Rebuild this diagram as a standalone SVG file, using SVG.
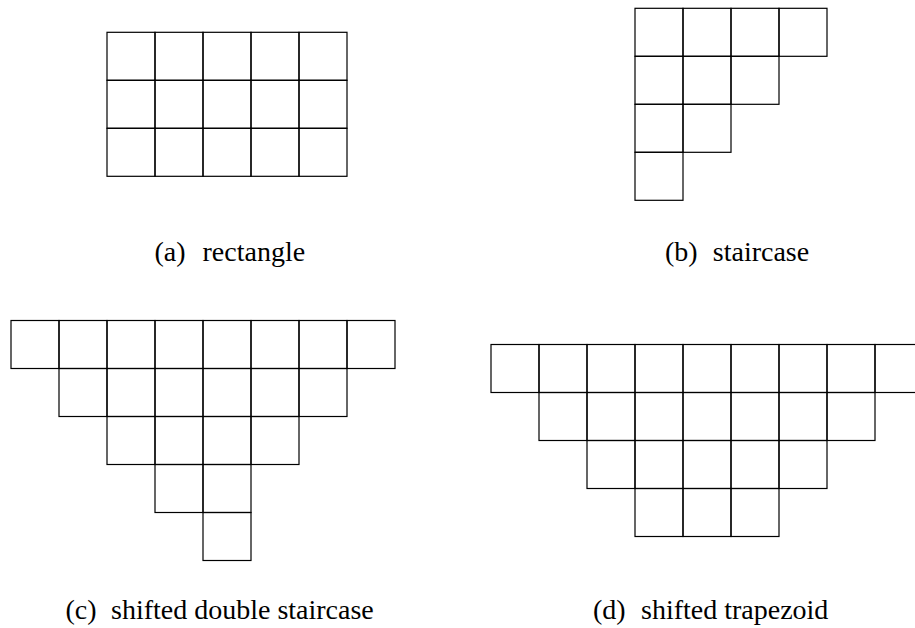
<svg xmlns="http://www.w3.org/2000/svg" xmlns:xlink="http://www.w3.org/1999/xlink" width="915" height="628" viewBox="0 0 915 628">
<style>
.c{fill:none;stroke:#000;stroke-width:1.2}
text{font-family:'Liberation Serif',Tinos,'Times New Roman',Times,'DejaVu Serif',serif;font-size:28px;fill:#000}
</style>
<defs>
<rect id="cell" class="c" width="48" height="48"/>
</defs>
<rect width="915" height="628" fill="#fff"/>
<g id="rectangle">
<use xlink:href="#cell" x="107" y="32.3"/><use xlink:href="#cell" x="155" y="32.3"/><use xlink:href="#cell" x="203" y="32.3"/><use xlink:href="#cell" x="251" y="32.3"/><use xlink:href="#cell" x="299" y="32.3"/>
<use xlink:href="#cell" x="107" y="80.3"/><use xlink:href="#cell" x="155" y="80.3"/><use xlink:href="#cell" x="203" y="80.3"/><use xlink:href="#cell" x="251" y="80.3"/><use xlink:href="#cell" x="299" y="80.3"/>
<use xlink:href="#cell" x="107" y="128.3"/><use xlink:href="#cell" x="155" y="128.3"/><use xlink:href="#cell" x="203" y="128.3"/><use xlink:href="#cell" x="251" y="128.3"/><use xlink:href="#cell" x="299" y="128.3"/>
</g>
<g id="staircase">
<use xlink:href="#cell" x="635" y="8.3"/><use xlink:href="#cell" x="683" y="8.3"/><use xlink:href="#cell" x="731" y="8.3"/><use xlink:href="#cell" x="779" y="8.3"/>
<use xlink:href="#cell" x="635" y="56.3"/><use xlink:href="#cell" x="683" y="56.3"/><use xlink:href="#cell" x="731" y="56.3"/>
<use xlink:href="#cell" x="635" y="104.3"/><use xlink:href="#cell" x="683" y="104.3"/>
<use xlink:href="#cell" x="635" y="152.3"/>
</g>
<g id="double-staircase">
<use xlink:href="#cell" x="11" y="320.5"/><use xlink:href="#cell" x="59" y="320.5"/><use xlink:href="#cell" x="107" y="320.5"/><use xlink:href="#cell" x="155" y="320.5"/><use xlink:href="#cell" x="203" y="320.5"/><use xlink:href="#cell" x="251" y="320.5"/><use xlink:href="#cell" x="299" y="320.5"/><use xlink:href="#cell" x="347" y="320.5"/>
<use xlink:href="#cell" x="59" y="368.5"/><use xlink:href="#cell" x="107" y="368.5"/><use xlink:href="#cell" x="155" y="368.5"/><use xlink:href="#cell" x="203" y="368.5"/><use xlink:href="#cell" x="251" y="368.5"/><use xlink:href="#cell" x="299" y="368.5"/>
<use xlink:href="#cell" x="107" y="416.5"/><use xlink:href="#cell" x="155" y="416.5"/><use xlink:href="#cell" x="203" y="416.5"/><use xlink:href="#cell" x="251" y="416.5"/>
<use xlink:href="#cell" x="155" y="464.5"/><use xlink:href="#cell" x="203" y="464.5"/>
<use xlink:href="#cell" x="203" y="512.5"/>
</g>
<g id="trapezoid">
<use xlink:href="#cell" x="491" y="344.5"/><use xlink:href="#cell" x="539" y="344.5"/><use xlink:href="#cell" x="587" y="344.5"/><use xlink:href="#cell" x="635" y="344.5"/><use xlink:href="#cell" x="683" y="344.5"/><use xlink:href="#cell" x="731" y="344.5"/><use xlink:href="#cell" x="779" y="344.5"/><use xlink:href="#cell" x="827" y="344.5"/><use xlink:href="#cell" x="875" y="344.5"/>
<use xlink:href="#cell" x="539" y="392.5"/><use xlink:href="#cell" x="587" y="392.5"/><use xlink:href="#cell" x="635" y="392.5"/><use xlink:href="#cell" x="683" y="392.5"/><use xlink:href="#cell" x="731" y="392.5"/><use xlink:href="#cell" x="779" y="392.5"/><use xlink:href="#cell" x="827" y="392.5"/>
<use xlink:href="#cell" x="587" y="440.5"/><use xlink:href="#cell" x="635" y="440.5"/><use xlink:href="#cell" x="683" y="440.5"/><use xlink:href="#cell" x="731" y="440.5"/><use xlink:href="#cell" x="779" y="440.5"/>
<use xlink:href="#cell" x="635" y="488.5"/><use xlink:href="#cell" x="683" y="488.5"/><use xlink:href="#cell" x="731" y="488.5"/>
</g>
<g id="labels">
<text y="260.7" font-family="Liberation Serif"><tspan x="154.5">(a)</tspan><tspan x="202.5">rectangle</tspan></text>
<text y="260.7" font-family="Liberation Serif"><tspan x="665">(b)</tspan><tspan x="712.8">staircase</tspan></text>
<text y="619" font-family="Liberation Serif"><tspan x="65.5">(c)</tspan><tspan x="111">shifted double staircase</tspan></text>
<text y="619" font-family="Liberation Serif"><tspan x="593">(d)</tspan><tspan x="641">shifted trapezoid</tspan></text>
</g>
</svg>
